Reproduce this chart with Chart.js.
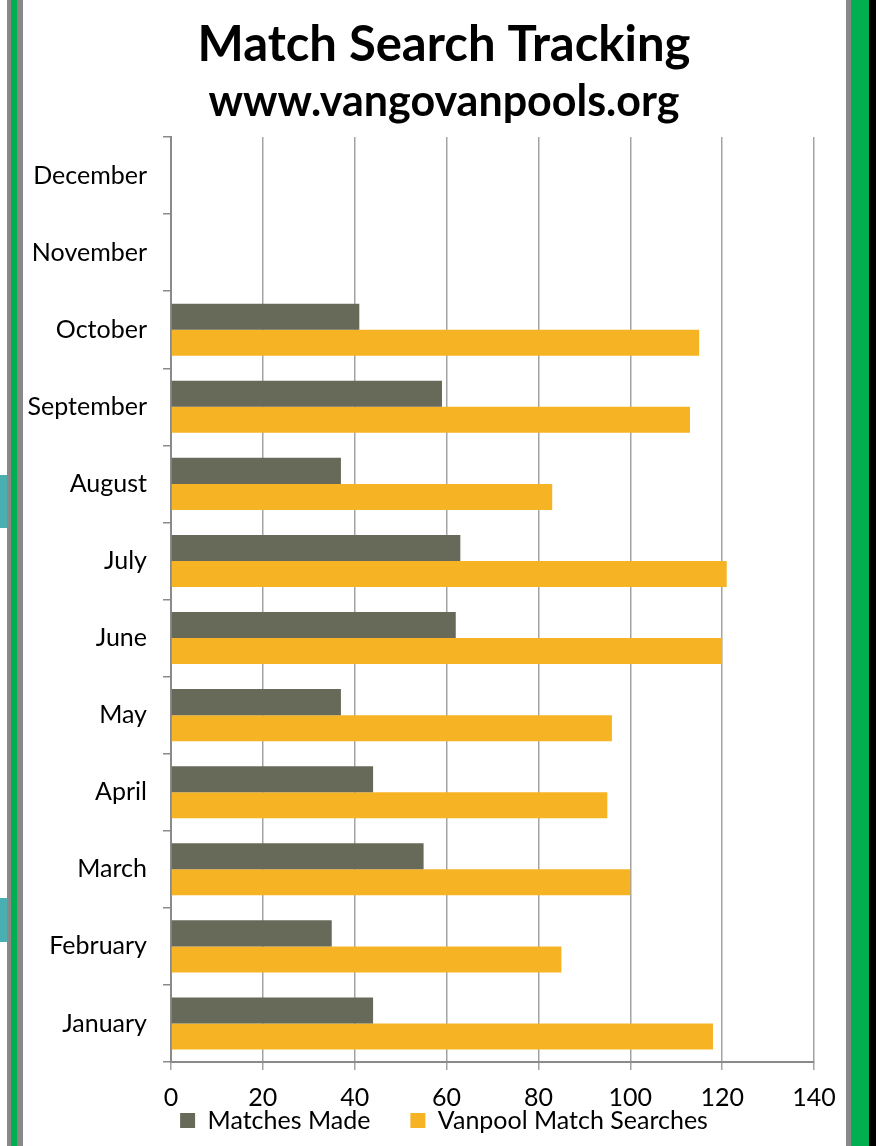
<!DOCTYPE html>
<html>
<head>
<meta charset="utf-8">
<script src="https://cdn.jsdelivr.net/npm/chart.js@4/dist/chart.umd.min.js"></script>
<style>
  html, body { margin: 0; padding: 0; background: #fff; overflow: hidden; }
  #wrap { position: relative; width: 888px; height: 1146px; }
  canvas { position: absolute; left: 0; top: 0; }
  .strip { position: absolute; top: 0; height: 1146px; }
</style>
</head>
<body>
<div id="wrap">
  <canvas id="c" width="888" height="1146"></canvas>
  <div class="strip" style="left:0;width:7px;top:475px;height:53px;background:#4aafb0;"></div>
  <div class="strip" style="left:0;width:7px;top:898px;height:44px;background:#4aafb0;"></div>
  <div class="strip" style="left:7px;width:4px;background:#888;"></div>
  <div class="strip" style="left:11px;width:6px;background:#00b050;"></div>
  <div class="strip" style="left:17px;width:6px;background:#888;"></div>
  <div class="strip" style="left:846px;width:5px;background:#888;"></div>
  <div class="strip" style="left:851px;width:18px;background:#00b050;"></div>
  <div class="strip" style="left:869px;width:7px;background:#000;"></div>
</div>
<script>
const months = ['January','February','March','April','May','June','July','August','September','October','November','December'];
const matchesMade = [44, 35, 55, 44, 37, 62, 63, 37, 59, 41, null, null];
const vanpoolSearches = [118, 85, 100, 95, 96, 120, 121, 83, 113, 115, null, null];
const xTicks = [0, 20, 40, 60, 80, 100, 120, 140];
const titleText = 'Match Search Tracking';
const subtitleText = 'www.vangovanpools.org';

Chart.defaults.font.family = 'Lato';
Chart.defaults.color = '#000';

const labels = months.slice().reverse();
const d1 = matchesMade.slice().reverse();
const d2 = vanpoolSearches.slice().reverse();

new Chart(document.getElementById('c'), {
  type: 'bar',
  data: {
    labels: labels,
    datasets: [
      { label: 'Matches Made', data: d1, backgroundColor: '#676a58', borderWidth: 0, barPercentage: 1, categoryPercentage: 0.675 },
      { label: 'Vanpool Match Searches', data: d2, backgroundColor: '#f6b324', borderWidth: 0, barPercentage: 1, categoryPercentage: 0.675 }
    ]
  },
  options: {
    indexAxis: 'y',
    responsive: false,
    animation: false,
    devicePixelRatio: 1,
    layout: { padding: { left: 0, right: 0, top: 0, bottom: 3 } },
    plugins: {
      title: { display: true, text: titleText, font: { size: 49, weight: 'bold' }, color: '#000', padding: { top: 16, bottom: 0 } },
      subtitle: { display: true, text: subtitleText, font: { size: 43, weight: 'bold' }, color: '#000', padding: { top: 2, bottom: 8.6 } },
      legend: {
        position: 'bottom',
        labels: { boxWidth: 15, boxHeight: 15, padding: 40, font: { size: 25 }, color: '#000' }
      },
      tooltip: { enabled: false }
    },
    scales: {
      x: {
        min: 0, max: 140,
        afterBuildTicks: (s) => { s.ticks = xTicks.map(v => ({ value: v })); },
        afterFit: (s) => { s.height = 6; s.paddingRight = 74; },
        grid: { color: '#a3a3a3', lineWidth: 1.5, tickLength: 8, drawTicks: true },
        border: { color: '#8a8a8a', width: 2 },
        ticks: { font: { size: 25 }, color: '#000', mirror: true, padding: -51, maxRotation: 0, autoSkip: false }
      },
      y: {
        afterFit: (s) => { s.width = 171; },
        grid: { drawOnChartArea: false, offset: true, color: '#8a8a8a', lineWidth: 1.5, tickLength: 8 },
        border: { color: '#8a8a8a', width: 2 },
        ticks: { font: { size: 25 }, color: '#000', padding: 16 }
      }
    }
  }
});
</script>
</body>
</html>
